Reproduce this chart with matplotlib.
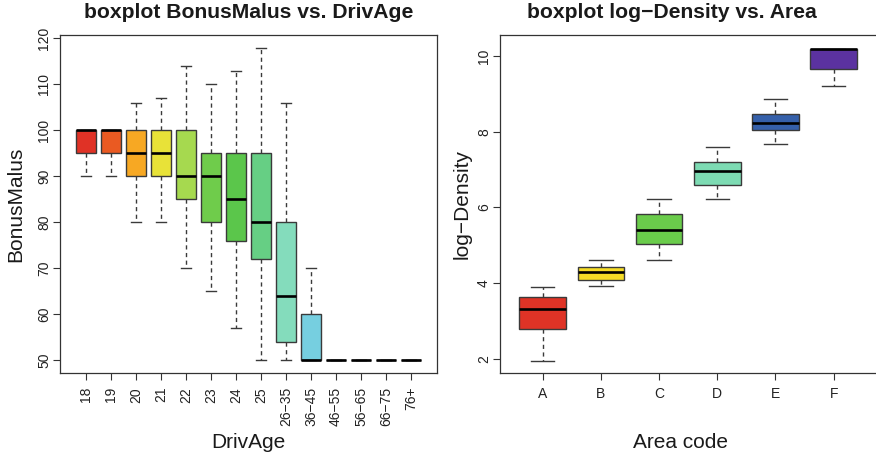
import matplotlib.pyplot as plt

plt.rcParams['font.family'] = ['Liberation Sans', 'DejaVu Sans']

# BonusMalus by driver age group
ages = ['18', '19', '20', '21', '22', '23', '24', '25',
        '26\u221235', '36\u221245', '46\u221255', '56\u221265', '66\u221275', '76+']
bm_lo = [90, 90, 80, 80, 70, 65, 57, 50, 50, 50, 50, 50, 50, 50]
bm_q1 = [95, 95, 90, 90, 85, 80, 76, 72, 54, 50, 50, 50, 50, 50]
bm_med = [100, 100, 95, 95, 90, 90, 85, 80, 64, 50, 50, 50, 50, 50]
bm_q3 = [100, 100, 100, 100, 100, 95, 95, 95, 80, 60, 50, 50, 50, 50]
bm_hi = [100, 100, 106, 107, 114, 110, 113, 118, 106, 70, 50, 50, 50, 50]
age_cols = ['#e03226', '#ea5a22', '#f7a823', '#e8e238', '#a6d94f', '#6fcc4b',
            '#5bc64b', '#66cf84', '#84dcbc', '#76cfe0', '#5a9ee0', '#4a6fd8',
            '#5a4ad0', '#7a3fc8']

# log-Density by area code
areas = ['A', 'B', 'C', 'D', 'E', 'F']
ld_lo = [1.95, 3.91, 4.61, 6.22, 7.67, 9.21]
ld_q1 = [2.78, 4.07, 5.02, 6.59, 8.06, 9.67]
ld_med = [3.30, 4.28, 5.40, 6.96, 8.24, 10.20]
ld_q3 = [3.63, 4.43, 5.82, 7.19, 8.47, 10.20]
ld_hi = [3.90, 4.61, 6.22, 7.60, 8.86, 10.20]
area_cols = ['#df3326', '#f5dc26', '#6acc4b', '#7ddbb3', '#3560aa', '#5b32a0']

EDGE = '#3a3a3a'


def stats(lo, q1, med, q3, hi):
    return [dict(whislo=a, q1=b, med=c, q3=d, whishi=e, fliers=[])
            for a, b, c, d, e in zip(lo, q1, med, q3, hi)]


def draw(ax, st, cols):
    pos = list(range(1, len(st) + 1))
    bp = ax.bxp(st, positions=pos, widths=0.8, capwidths=0.4,
                patch_artist=True, showfliers=False,
                boxprops=dict(edgecolor=EDGE, linewidth=1.0),
                medianprops=dict(color='black', linewidth=1.9, solid_capstyle='butt'),
                whiskerprops=dict(color=EDGE, linewidth=1.0, linestyle=(0, (3, 2.5))),
                capprops=dict(color=EDGE, linewidth=1.0))
    for patch, c in zip(bp['boxes'], cols):
        patch.set_facecolor(c)
    for s in ax.spines.values():
        s.set_color('#333333')
        s.set_linewidth(0.9)
    ax.tick_params(direction='out', length=5, width=0.8, color='#333333',
                   labelsize=10, labelcolor='#222222')
    ax.tick_params(axis='y', pad=1.5)
    ax.tick_params(axis='x', pad=5)
    return pos


fig = plt.figure(figsize=(8.76, 4.57), dpi=100)
ax1 = fig.add_axes([60 / 876, 1 - 373 / 457, 377 / 876, 338 / 457])
ax2 = fig.add_axes([500 / 876, 1 - 373 / 457, 376 / 876, 338 / 457])

pos = draw(ax1, stats(bm_lo, bm_q1, bm_med, bm_q3, bm_hi), age_cols)
ax1.set_xlim(-0.04, 15.04)
ax1.set_ylim(47.28, 120.72)
ax1.set_yticks(range(50, 121, 10))
plt.setp(ax1.get_yticklabels(), rotation=90, va='center')
ax1.set_xticks(pos)
ax1.set_xticklabels(ages, rotation=90, ha='center', va='top')
ax1.set_title('boxplot BonusMalus vs. DrivAge', fontsize=15.2,
              fontweight='bold', pad=12, color='#1a1a1a')
ax1.set_xlabel('DrivAge', fontsize=15, color='#1a1a1a')
ax1.set_ylabel('BonusMalus', fontsize=15, color='#1a1a1a', va='center')
ax1.xaxis.set_label_coords(0.5, -0.178)
ax1.yaxis.set_label_coords(-0.117, 0.5)

pos = draw(ax2, stats(ld_lo, ld_q1, ld_med, ld_q3, ld_hi), area_cols)
ax2.set_xlim(0.266, 6.727)
ax2.set_ylim(1.62, 10.56)
ax2.set_yticks([2, 4, 6, 8, 10])
plt.setp(ax2.get_yticklabels(), rotation=90, va='center')
ax2.set_xticks(pos)
ax2.set_xticklabels(areas)
ax2.spines['right'].set_visible(False)
ax2.set_title('boxplot log\u2212Density vs. Area', fontsize=15.2,
              fontweight='bold', pad=12, color='#1a1a1a', x=0.457)
ax2.set_xlabel('Area code', fontsize=15, color='#1a1a1a')
ax2.set_ylabel('log\u2212Density', fontsize=15, color='#1a1a1a', va='center')
ax2.xaxis.set_label_coords(0.479, -0.178)
ax2.yaxis.set_label_coords(-0.101, 0.5)

fig.savefig('out.png', dpi=100)
